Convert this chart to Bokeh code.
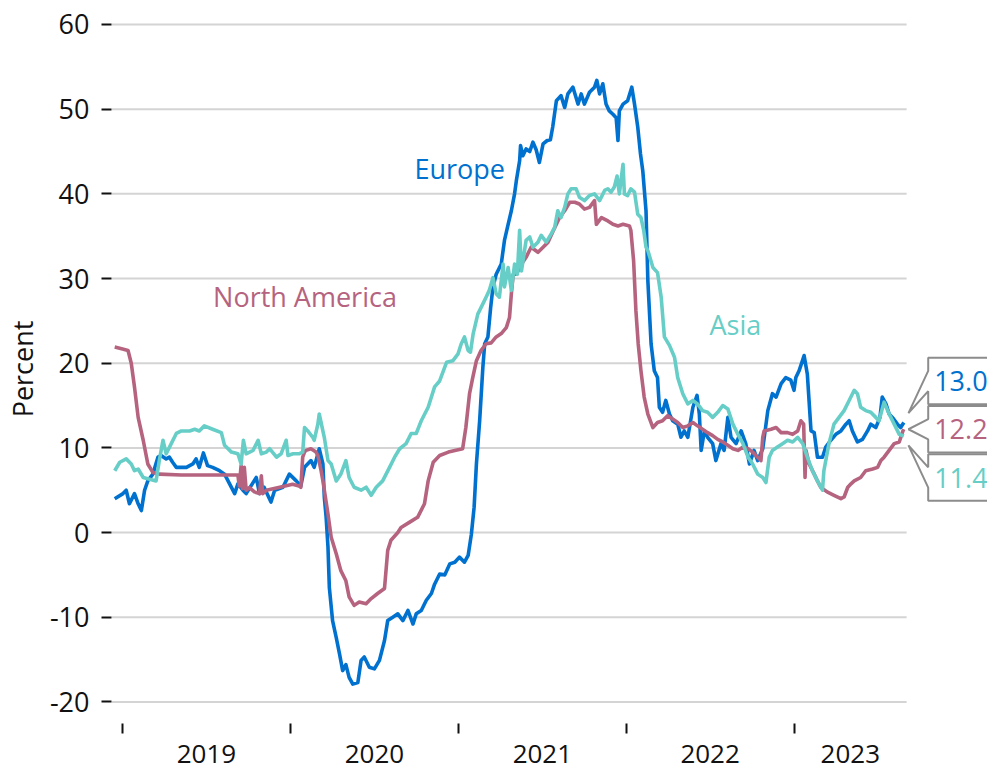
import pandas as pd
from bokeh.plotting import figure
from bokeh.models import (FixedTicker, LinearAxis, Range1d, Label, PolyAnnotation,
                          CustomJSTickFormatter, ColumnDataSource)
from bokeh.embed import file_html
from bokeh.resources import INLINE

# ---------------- data ----------------
series_names = ["Europe", "North America", "Asia"]
series_colors = ["#0071CE", "#B5637F", "#66CEC6"]

europe_dates = ["2018-12-15","2019-01-02","2019-01-09","2019-01-16","2019-01-27","2019-02-04","2019-02-11","2019-02-18","2019-02-25","2019-03-08","2019-03-19","2019-03-26","2019-04-06","2019-04-13","2019-04-20","2019-04-28","2019-05-20","2019-06-03","2019-06-10","2019-06-17","2019-06-26","2019-07-05","2019-07-16","2019-07-31","2019-08-11","2019-08-22","2019-09-02","2019-09-09","2019-09-20","2019-09-27","2019-10-19","2019-10-26","2019-11-05","2019-11-20","2019-11-28","2019-12-16","2019-12-30","2020-01-14","2020-01-24","2020-02-01","2020-02-15","2020-02-22","2020-03-04","2020-03-12","2020-03-15","2020-03-19","2020-03-23","2020-03-26","2020-04-02","2020-04-10","2020-04-17","2020-04-24","2020-05-01","2020-05-08","2020-05-16","2020-05-27","2020-06-03","2020-06-10","2020-06-21","2020-07-02","2020-07-13","2020-07-24","2020-07-31","2020-08-11","2020-08-22","2020-09-02","2020-09-13","2020-09-24","2020-10-01","2020-10-12","2020-10-23","2020-11-03","2020-11-10","2020-11-21","2020-12-02","2020-12-13","2020-12-24","2021-01-03","2021-01-14","2021-01-22","2021-01-29","2021-02-04","2021-02-09","2021-02-16","2021-02-23","2021-02-27","2021-03-06","2021-03-12","2021-03-17","2021-03-24","2021-04-04","2021-04-11","2021-04-19","2021-04-26","2021-05-03","2021-05-07","2021-05-14","2021-05-16","2021-05-21","2021-05-28","2021-06-05","2021-06-12","2021-06-19","2021-06-26","2021-07-04","2021-07-13","2021-07-20","2021-07-25","2021-08-02","2021-08-12","2021-08-20","2021-08-27","2021-09-07","2021-09-18","2021-09-25","2021-10-02","2021-10-13","2021-10-24","2021-10-29","2021-11-04","2021-11-11","2021-11-18","2021-11-25","2021-12-03","2021-12-10","2021-12-14","2021-12-17","2021-12-25","2022-01-04","2022-01-13","2022-01-19","2022-01-26","2022-02-01","2022-02-06","2022-02-13","2022-02-17","2022-02-24","2022-03-03","2022-03-10","2022-03-14","2022-03-21","2022-03-28","2022-04-05","2022-04-12","2022-04-23","2022-04-30","2022-05-07","2022-05-15","2022-05-26","2022-06-04","2022-06-09","2022-06-13","2022-06-20","2022-06-27","2022-07-08","2022-07-15","2022-07-26","2022-08-02","2022-08-10","2022-08-17","2022-08-28","2022-09-08","2022-09-18","2022-09-26","2022-10-06","2022-10-14","2022-10-25","2022-11-05","2022-11-15","2022-11-23","2022-12-04","2022-12-14","2022-12-25","2023-01-01","2023-01-05","2023-01-12","2023-01-23","2023-01-30","2023-02-07","2023-02-14","2023-02-21","2023-03-04","2023-03-11","2023-03-22","2023-04-02","2023-04-13","2023-04-24","2023-05-01","2023-05-08","2023-05-19","2023-05-30","2023-06-10","2023-06-17","2023-06-28","2023-07-07","2023-07-12","2023-07-20","2023-07-27","2023-08-03","2023-08-14","2023-08-21","2023-08-28"]
europe_values = [4.0,4.6,5.0,3.4,4.6,3.4,2.6,5.0,6.1,6.9,8.9,9.1,8.7,8.9,8.3,7.7,7.7,8.1,8.7,7.7,9.4,7.9,7.7,7.3,6.9,5.75,4.6,5.75,5.0,4.6,6.5,4.6,5.35,3.6,5.0,5.35,6.9,6.1,5.5,7.7,8.5,7.7,9.9,8.1,4.2,1.8,-1.7,-6.5,-10.4,-12.4,-14.3,-16.3,-15.6,-17.1,-17.9,-17.7,-15.1,-14.7,-15.9,-16.1,-15.1,-12.75,-10.4,-10.0,-9.6,-10.4,-9.2,-10.8,-9.6,-9.2,-8.0,-7.2,-6.1,-4.9,-5.0,-3.7,-3.5,-2.9,-3.5,-2.7,-0.2,3.0,8.1,13.2,19.5,22.3,23.1,26.6,29.0,30.5,31.7,34.5,36.4,38.0,40.0,41.6,43.9,45.7,44.5,45.3,45.0,46.1,45.2,43.7,45.9,46.3,46.4,47.9,51.0,51.6,50.2,51.8,52.6,50.6,51.8,50.6,52.0,52.6,53.4,51.8,53.0,50.6,49.8,49.4,49.0,46.3,49.8,50.6,51.0,52.6,50.6,47.9,44.7,42.7,38.0,29.75,22.3,19.1,18.3,14.8,14.2,15.6,14.0,13.2,12.8,11.25,12.0,11.25,14.8,16.2,14.0,9.7,12.0,11.25,10.5,8.5,10.5,9.7,13.6,11.25,10.5,12.0,10.5,8.1,9.7,8.5,9.9,14.4,16.4,16.0,17.6,18.3,18.0,16.8,18.3,19.1,20.9,18.7,12.0,11.8,8.9,8.9,10.1,10.9,11.6,12.0,12.8,13.2,12.0,10.7,11.0,12.0,12.8,12.4,13.6,16.0,15.2,14.0,13.6,12.8,12.4,13.0]

namerica_dates = ["2018-12-15","2018-12-30","2019-01-13","2019-01-20","2019-01-27","2019-02-04","2019-02-15","2019-02-25","2019-03-08","2019-03-22","2019-05-09","2019-07-24","2019-09-09","2019-09-12","2019-09-16","2019-09-19","2019-09-23","2019-09-27","2019-10-04","2019-10-15","2019-10-26","2019-10-30","2019-11-02","2019-11-10","2019-12-09","2020-01-06","2020-01-20","2020-01-24","2020-01-28","2020-02-01","2020-02-04","2020-02-15","2020-02-26","2020-03-01","2020-03-08","2020-03-12","2020-03-23","2020-03-30","2020-04-10","2020-04-20","2020-05-01","2020-05-08","2020-05-19","2020-05-30","2020-06-14","2020-06-25","2020-07-09","2020-07-24","2020-07-31","2020-08-07","2020-08-22","2020-08-29","2020-09-16","2020-10-04","2020-10-19","2020-10-27","2020-11-07","2020-11-21","2020-12-10","2020-12-24","2021-01-10","2021-01-17","2021-01-25","2021-02-01","2021-02-09","2021-02-19","2021-03-02","2021-03-13","2021-03-24","2021-04-04","2021-04-15","2021-04-22","2021-04-26","2021-04-30","2021-05-07","2021-05-18","2021-05-28","2021-06-08","2021-06-23","2021-07-04","2021-07-15","2021-07-25","2021-08-02","2021-08-09","2021-08-20","2021-08-31","2021-09-11","2021-09-21","2021-10-02","2021-10-13","2021-10-24","2021-10-28","2021-11-08","2021-11-22","2021-12-03","2021-12-14","2021-12-25","2022-01-08","2022-01-11","2022-01-17","2022-01-22","2022-01-27","2022-02-02","2022-02-09","2022-02-17","2022-02-28","2022-03-10","2022-03-21","2022-04-01","2022-04-12","2022-04-23","2022-05-04","2022-05-15","2022-05-26","2022-06-05","2022-06-16","2022-06-27","2022-07-08","2022-07-19","2022-07-30","2022-08-10","2022-08-21","2022-09-01","2022-09-12","2022-09-23","2022-10-03","2022-10-14","2022-10-21","2022-10-25","2022-10-28","2022-11-12","2022-11-23","2022-12-04","2022-12-18","2022-12-29","2023-01-09","2023-01-16","2023-01-22","2023-01-25","2023-01-27","2023-02-03","2023-02-14","2023-02-21","2023-02-28","2023-03-14","2023-03-29","2023-04-13","2023-04-20","2023-04-28","2023-05-05","2023-05-12","2023-05-26","2023-06-06","2023-06-21","2023-07-02","2023-07-09","2023-07-16","2023-07-27","2023-08-07","2023-08-18","2023-08-26","2023-08-28"]
namerica_values = [21.9,21.7,21.5,20.0,17.2,13.6,10.9,8.1,7.1,6.9,6.8,6.8,6.8,5.5,7.9,5.2,7.7,5.0,5.3,4.8,4.6,6.7,4.6,5.0,5.35,5.7,5.5,5.35,8.9,9.5,9.7,9.9,9.5,9.1,7.3,6.1,2.2,-0.55,-2.5,-4.5,-5.7,-7.6,-8.6,-8.2,-8.4,-7.8,-7.2,-6.6,-2.1,-0.9,0.0,0.6,1.2,1.8,3.4,6.1,8.3,9.1,9.5,9.7,9.9,12.4,16.4,18.3,20.3,21.5,22.3,22.4,23.1,23.5,24.2,25.4,28.2,30.5,30.5,31.7,32.5,33.7,33.1,33.7,34.3,35.5,36.4,37.2,38.0,39.0,39.0,38.8,38.2,38.4,39.2,36.4,37.2,36.8,36.4,36.2,36.4,36.2,35.7,32.1,26.2,22.3,19.1,16.0,14.0,12.4,13.0,13.2,13.8,13.4,13.0,12.4,12.6,13.0,12.6,12.2,11.8,11.45,11.0,10.7,10.3,9.9,9.7,10.1,9.9,9.5,8.9,8.5,11.25,12.0,12.2,12.4,11.8,11.8,11.6,12.0,13.2,12.8,6.5,9.7,8.1,6.9,6.1,5.35,4.8,4.4,4.0,4.2,5.35,5.75,6.1,6.5,7.3,7.5,7.7,8.5,8.9,9.7,10.5,10.7,12.0,12.2]

asia_dates = ["2018-12-15","2018-12-26","2019-01-09","2019-01-20","2019-01-27","2019-02-04","2019-02-15","2019-03-01","2019-03-15","2019-03-22","2019-03-30","2019-04-06","2019-04-17","2019-04-28","2019-05-09","2019-05-27","2019-06-07","2019-06-17","2019-06-28","2019-07-16","2019-08-04","2019-08-11","2019-08-26","2019-09-09","2019-09-16","2019-09-21","2019-09-27","2019-10-12","2019-10-23","2019-10-30","2019-11-10","2019-11-17","2019-12-02","2019-12-12","2019-12-23","2019-12-27","2020-01-07","2020-01-20","2020-01-28","2020-02-01","2020-02-08","2020-02-19","2020-02-22","2020-03-01","2020-03-04","2020-03-15","2020-03-23","2020-03-30","2020-04-10","2020-04-20","2020-05-01","2020-05-08","2020-05-19","2020-06-03","2020-06-14","2020-06-25","2020-07-06","2020-07-20","2020-08-04","2020-08-15","2020-08-26","2020-09-09","2020-09-20","2020-10-01","2020-10-12","2020-10-27","2020-11-10","2020-11-21","2020-12-06","2020-12-20","2020-12-31","2021-01-07","2021-01-14","2021-01-22","2021-01-27","2021-02-02","2021-02-12","2021-02-23","2021-03-02","2021-03-09","2021-03-17","2021-03-24","2021-03-31","2021-04-08","2021-04-11","2021-04-19","2021-04-26","2021-05-03","2021-05-09","2021-05-14","2021-05-18","2021-05-28","2021-06-05","2021-06-12","2021-06-23","2021-06-30","2021-07-11","2021-07-22","2021-07-29","2021-08-05","2021-08-12","2021-08-20","2021-08-27","2021-09-03","2021-09-14","2021-09-21","2021-10-02","2021-10-13","2021-10-24","2021-11-04","2021-11-15","2021-11-22","2021-11-29","2021-12-06","2021-12-12","2021-12-17","2021-12-25","2021-12-28","2022-01-04","2022-01-11","2022-01-19","2022-01-26","2022-02-02","2022-02-08","2022-02-13","2022-02-17","2022-02-28","2022-03-10","2022-03-18","2022-03-25","2022-04-05","2022-04-16","2022-04-23","2022-05-04","2022-05-15","2022-05-26","2022-06-05","2022-06-16","2022-06-27","2022-07-08","2022-07-19","2022-07-30","2022-08-10","2022-08-21","2022-09-01","2022-09-12","2022-09-23","2022-10-03","2022-10-14","2022-10-25","2022-11-01","2022-11-08","2022-11-15","2022-11-26","2022-12-07","2022-12-18","2022-12-29","2023-01-09","2023-01-20","2023-01-30","2023-02-10","2023-02-21","2023-03-04","2023-03-07","2023-03-18","2023-03-29","2023-04-09","2023-04-20","2023-05-01","2023-05-12","2023-05-19","2023-05-26","2023-06-06","2023-06-17","2023-06-28","2023-07-05","2023-07-16","2023-07-27","2023-08-07","2023-08-18","2023-08-28"]
asia_values = [7.3,8.3,8.7,8.1,7.3,7.5,6.5,6.3,6.1,8.5,10.9,9.3,10.5,11.7,12.0,12.0,12.2,12.0,12.6,12.2,11.8,10.3,9.5,9.3,8.1,10.9,9.3,9.7,10.9,9.3,9.5,9.9,8.9,9.3,10.9,9.1,9.3,9.3,9.5,12.4,12.0,11.25,10.9,12.8,14.0,11.25,8.5,8.1,6.1,6.9,8.5,6.5,5.35,5.0,5.35,4.4,5.35,6.1,7.7,8.9,9.9,10.5,11.7,11.7,13.2,14.8,17.2,17.9,20.1,20.3,21.1,22.3,23.1,21.5,21.3,23.5,25.8,27.0,27.8,28.6,30.1,28.2,27.8,31.7,29.0,31.3,28.6,31.7,30.5,35.7,30.9,34.5,34.9,33.7,34.3,35.1,34.3,35.3,36.0,38.0,37.2,38.4,40.0,40.6,40.6,39.6,39.2,39.8,40.0,39.2,40.4,40.6,40.2,40.8,42.1,40.0,43.5,40.0,39.8,40.6,40.2,37.6,37.2,35.7,33.7,33.3,31.3,30.7,27.8,23.1,22.1,20.7,18.3,16.4,15.2,15.6,15.2,14.4,14.2,13.6,14.2,15.0,14.6,12.8,11.6,10.5,8.9,8.1,6.9,6.5,5.9,8.9,9.7,10.1,10.5,10.9,10.7,11.25,10.5,8.9,7.3,6.1,5.0,7.3,10.5,12.8,13.6,14.4,15.6,16.8,16.4,14.8,14.4,14.2,13.6,13.2,15.4,14.0,12.8,11.6,11.4]

series_dates = [europe_dates, namerica_dates, asia_dates]
series_values = [europe_values, namerica_values, asia_values]

# name-label placement (date of left edge, vertical position in percent)
label_dates = ["2020-09-27", "2019-07-17", "2022-07-01"]
label_values = [43.05, 27.9, 24.56]

y_ticks = [-20, -10, 0, 10, 20, 30, 40, 50, 60]
year_starts = ["2019-01-01", "2020-01-01", "2021-01-01", "2022-01-01", "2023-01-01"]
plot_start, plot_end = "2018-12-08", "2023-09-03"   # gridded data area
view_end = "2024-02-26"                              # room on the right for callouts
y_start, y_end = -22.55, 61.18

FONT = "Open Sans"
FS = "27px"


def ms(s):
    return pd.Timestamp(s).value / 1e6


# ---------------- figure ----------------
p = figure(width=987, height=770, output_backend="svg", toolbar_location=None,
           x_range=Range1d(ms(plot_start), ms(view_end)), y_range=Range1d(y_start, y_end),
           x_axis_type=None, y_axis_type=None,
           min_border_left=110, min_border_right=0, min_border_top=14, min_border_bottom=47)
p.outline_line_color = None
p.background_fill_color = "white"
p.border_fill_color = "white"

# horizontal gridlines limited to the data area
p.segment(x0=[ms(plot_start)] * len(y_ticks), x1=[ms(plot_end)] * len(y_ticks),
          y0=y_ticks, y1=y_ticks, line_color="#d4d4d4", line_width=2)

yax = LinearAxis(ticker=FixedTicker(ticks=y_ticks),
                 formatter=CustomJSTickFormatter(code="return tick.toFixed(0);"),
                 axis_line_color=None,
                 major_tick_in=0, major_tick_out=10, major_tick_line_width=2,
                 major_tick_line_color="#111111", minor_tick_line_color=None,
                 major_label_standoff=12, major_label_text_font=FONT,
                 major_label_text_font_size=FS, major_label_text_color="#111111",
                 axis_label="Percent", axis_label_text_font=FONT,
                 axis_label_text_font_size=FS, axis_label_text_font_style="normal",
                 axis_label_text_color="#111111", axis_label_standoff=6)
p.add_layout(yax, "left")

# year labels centred inside each year span, ticks at year boundaries
ys_ms = [ms(d) for d in year_starts]
bounds = ys_ms + [ms(plot_end)]
label_ticks = [(max(bounds[i], ms(plot_start)) + min(bounds[i + 1], ms(plot_end))) / 2
               for i in range(len(ys_ms))]
xax = LinearAxis(ticker=FixedTicker(ticks=label_ticks, minor_ticks=ys_ms),
                 formatter=CustomJSTickFormatter(code="return String(new Date(tick).getUTCFullYear());"),
                 axis_line_color=None, major_tick_in=0, major_tick_out=0,
                 major_tick_line_color=None,
                 minor_tick_in=0, minor_tick_out=10, minor_tick_line_width=2,
                 minor_tick_line_color="#111111",
                 major_label_standoff=11, major_label_text_font=FONT,
                 major_label_text_font_size="26px", major_label_text_color="#111111")
p.add_layout(xax, "below")

# ---------------- lines ----------------
for name, col, d, v in zip(series_names, series_colors, series_dates, series_values):
    src = ColumnDataSource(dict(x=[ms(s) for s in d], y=v))
    p.line("x", "y", source=src, line_color=col, line_width=3.6, line_join="round")

for name, col, d, v in zip(series_names, series_colors, label_dates, label_values):
    p.add_layout(Label(x=ms(d), y=v, text=name, text_color=col, text_font=FONT,
                       text_font_size=FS, text_baseline="alphabetic", text_align="left"))

# ---------------- end-value callouts ----------------
last = sorted([(vals[-1], col, dts[-1]) for vals, col, dts in
               zip(series_values, series_colors, series_dates)], key=lambda t: -t[0])
mid = sum(t[0] for t in last) / len(last)
spacing, half_h, half_base, tip_step = 5.7, 2.75, 1.2, 1.9
for i, (val, col, dt) in enumerate(last):
    end = pd.Timestamp(dt)
    tip_x = ms(end + pd.Timedelta(days=10))
    left = ms(end + pd.Timedelta(days=53))
    right = ms(end + pd.Timedelta(days=400))
    cy = mid + spacing * (1 - i)
    tip_y = mid + tip_step * (1 - i)
    xs = [tip_x, left, left, right, right, left, left]
    ys = [tip_y, cy + half_base, cy + half_h, cy + half_h, cy - half_h, cy - half_h, cy - half_base]
    p.add_layout(PolyAnnotation(xs=xs, ys=ys, fill_color="white", fill_alpha=1.0,
                                line_color="#8c8c8c", line_alpha=1.0, line_width=2))
    p.add_layout(Label(x=ms(end + pd.Timedelta(days=66)), y=cy, text=f"{val:.1f}",
                       text_color=col, text_font=FONT, text_font_size=FS,
                       text_baseline="alphabetic", text_align="left"))

open("out.html", "w").write(file_html(p, INLINE))
